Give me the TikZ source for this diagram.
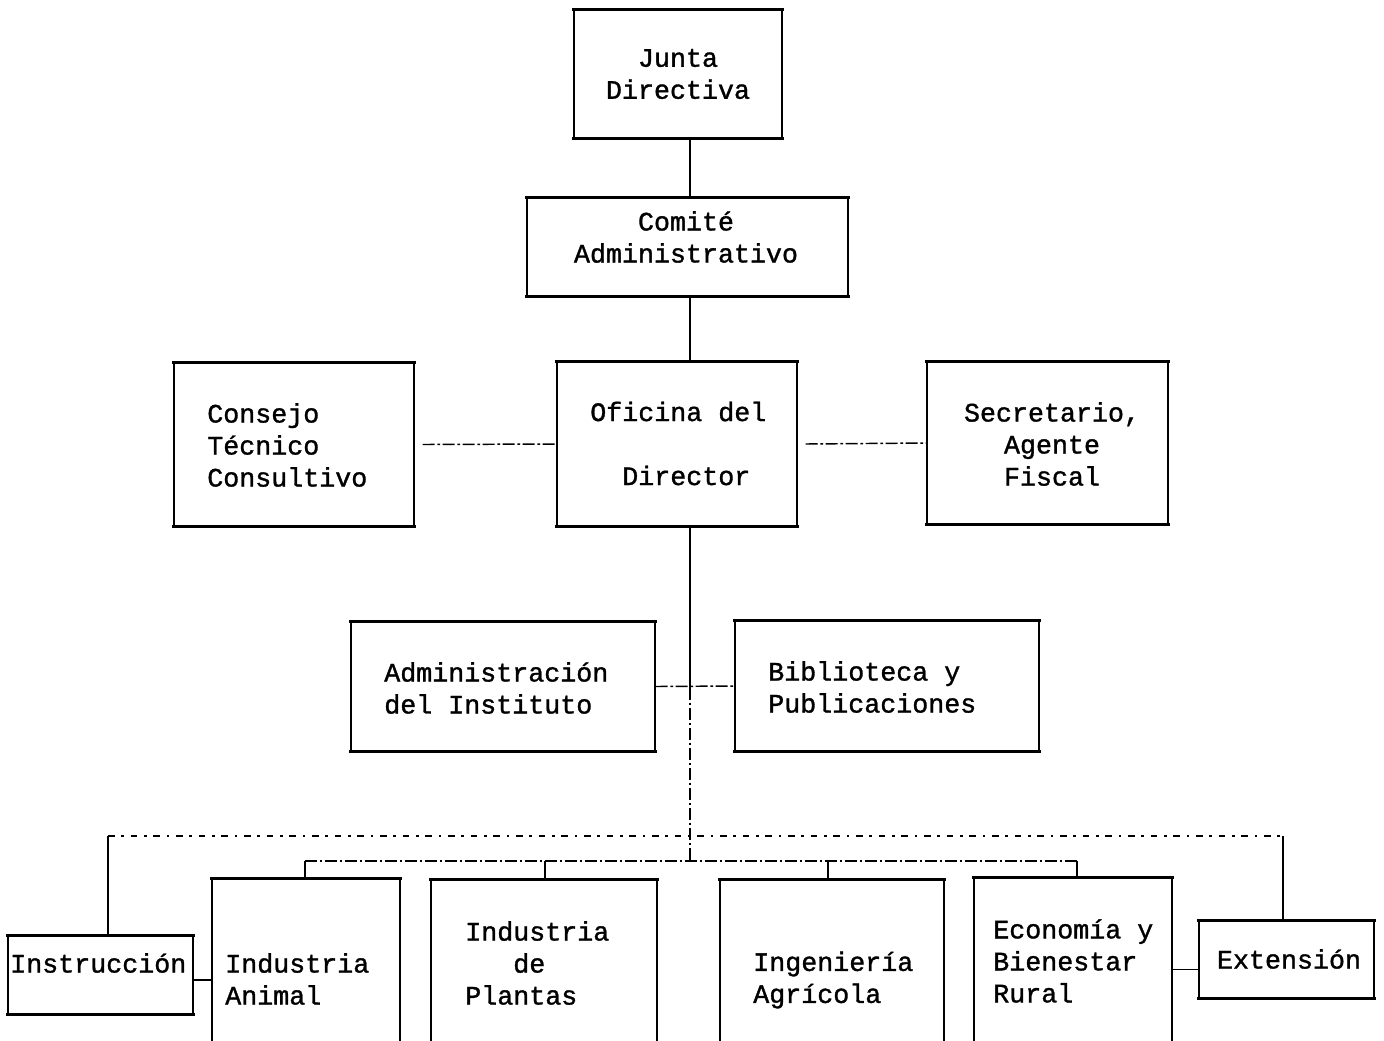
\documentclass[tikz,border=0pt]{standalone}
\usepackage{fontspec}
\setmainfont{Liberation Mono}
\newfontfamily\typew[FakeBold=1.2]{Liberation Mono}
\begin{document}
\begin{tikzpicture}[x=0.75pt,y=-0.75pt,
  box/.style={rectangle, draw=black, line width=1.1pt, inner sep=0pt},
  bx/.style 2 args={box, minimum width=#1*0.75pt, minimum height=#2*0.75pt},
  txt/.style={font=\typew\fontsize{20}{24}\selectfont, inner sep=0pt, align=left, text=black},
  txtc/.style={txt, align=center},
  thickedge/.style={line width=2.6pt, line cap=rect},
  solidc/.style={line width=1.1pt, draw=black},
  dashc/.style={line width=1.1pt, draw=black, dash pattern=on 9pt off 2pt on 2pt off 2pt},
  dotc/.style={line width=1.1pt, draw=black, dash pattern=on 5pt off 5pt on 2pt off 5pt}]
\useasboundingbox (0,0) rectangle (1384,1040);
\clip (0,0) rectangle (1384,1040);
\fill[white] (0,0) rectangle (1384,1040);

% boxes
\node[bx={208}{128}] (jd) at (678,74) {};
\node[bx={321}{98}] (ca) at (687.5,247) {};
\node[bx={240}{163}] (ctc) at (294,444.5) {};
\node[bx={240}{164}] (od) at (677,444) {};
\node[bx={241}{162}] (sec) at (1047.5,443) {};
\node[bx={304}{129}] (adm) at (503,686.5) {};
\node[bx={304}{130}] (bib) at (887,686) {};
\node[bx={185}{78}] (ins) at (100.5,975) {};
\node[bx={188}{163}] (ia) at (306,960.5) {};
\node[bx={226}{162}] (ip) at (544,961) {};
\node[bx={224}{162}] (ing) at (832,961) {};
\node[bx={198}{164}] (eco) at (1073,960) {};
\node[bx={175}{77}] (ext) at (1286.5,959.5) {};

\foreach \n in {jd,ca,ctc,od,sec,adm,bib,ins,ia,ip,ing,eco,ext}
  \draw[thickedge] (\n.north west) -- (\n.north east) (\n.south west) -- (\n.south east);

% texts
\node[txtc] (jdt) at (678,74) {Junta\\Directiva};
\node[txtc] (cat) at (686,237) {Comité\\Administrativo};
\node[txt, anchor=west] (ctct) at (207,445) {Consejo\\Técnico\\Consultivo};
\node[txt, anchor=west] (odt) at (590,443.5) {Oficina del\\[24pt]\phantom{Of}Director};
\node[txtc] (sect) at (1052,444) {Secretario,\\Agente\\Fiscal};
\node[txt, anchor=west] (admt) at (384,688) {Administración\\del Instituto};
\node[txt, anchor=west] (bibt) at (768,687) {Biblioteca y\\Publicaciones};
\node[txt, anchor=west] (inst) at (10,963) {Instrucción};
\node[txt, anchor=west] (iat) at (225,979) {Industria\\Animal};
\node[txt, anchor=west] (ipt) at (465,963) {Industria\\\phantom{Ind}de\\Plantas};
\node[txt, anchor=west] (ingt) at (753,980) {Ingeniería\\Agrícola};
\node[txt, anchor=west] (ecot) at (993,961) {Economía y\\Bienestar\\Rural};
\node[txtc] (extt) at (1289,959) {Extensión};

% spine coordinates
\coordinate (sp) at (690,0);
\coordinate (mid) at (690,688);
\coordinate (b1) at (690,836);
\coordinate (b1L) at (108,836);
\coordinate (b1R) at (1283,836);
\coordinate (b2) at (690,861);
\coordinate (b2L) at (305,861);
\coordinate (b2R) at (1077,861);
\coordinate (d1) at (545,861);
\coordinate (d2) at (828,861);

% connectors
\draw[solidc] (jd.south -| sp) -- (ca.north -| sp);
\draw[solidc] (ca.south -| sp) -- (od.north -| sp);
\draw[dashc] ([xshift=6pt]ctc.east) -- (od.west);
\draw[dashc] ([xshift=6pt]od.east) -- (sec.west);
\draw[solidc] (od.south -| sp) -- (mid);
\draw[dashc] (mid) -- (b2);
\draw[dashc] (adm.east) -- (bib.west);
\draw[dotc] (b1L) -- (b1R);
\draw[solidc] (b1L) -- (ins.north -| b1L);
\draw[solidc] (b1R) -- (ext.north -| b1R);
\draw[dashc] (b2L) -- (b2R);
\draw[solidc] (b2L) -- (ia.north -| b2L);
\draw[solidc] (d1) -- (ip.north -| d1);
\draw[solidc] (d2) -- (ing.north -| d2);
\draw[solidc] (b2R) -- (eco.north -| b2R);
\draw[solidc] ([yshift=-3.75pt]ins.east) -- ([yshift=-3.75pt]ins.east -| ia.west);
\draw[solidc] ([yshift=-7.5pt]ext.west) -- ([yshift=-7.5pt]ext.west -| eco.east);
\end{tikzpicture}
\end{document}
